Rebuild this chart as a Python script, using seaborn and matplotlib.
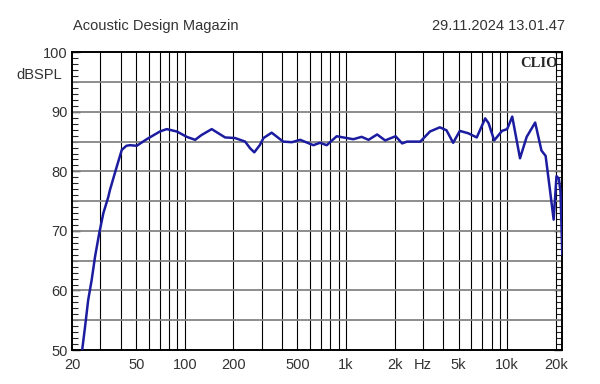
#!/usr/bin/env python3
"""Frequency response plot (CLIO style) - saves out.png."""

import numpy as np
import pandas as pd
import matplotlib
matplotlib.use('Agg')
import matplotlib.pyplot as plt
import seaborn as sns
from matplotlib.ticker import FixedLocator, MultipleLocator, NullFormatter

freq_hz = [23.0, 24.1, 25.2, 26.5, 27.8, 29.5, 31.3, 33.5, 34.4, 37.9,
           40.7, 43.5, 45.8, 50.4, 58.1, 70.2, 77.3, 89.3, 103, 116,
           127, 147, 178, 205, 237, 254, 270, 292, 308, 346,
           408, 462, 520, 628, 690, 760, 876, 1010, 1110, 1250,
           1380, 1560, 1750, 2030, 2230, 2390, 2890, 3320, 3820, 4200,
           4620, 5080, 5730, 6470, 7300, 7660, 8300, 9280, 9990, 10740,
           12000, 13200, 14900, 16300, 17300, 18400, 19400, 20200, 20900, 21400,
           21950]
spl_db = [49.5, 53.9, 58.4, 61.8, 65.7, 69.6, 73.0, 75.6, 76.9, 80.8,
          83.6, 84.3, 84.4, 84.3, 85.4, 86.7, 87.1, 86.7, 85.8, 85.3,
          86.1, 87.1, 85.7, 85.6, 85.0, 83.9, 83.2, 84.4, 85.6, 86.5,
          85.0, 84.9, 85.3, 84.4, 84.8, 84.4, 85.9, 85.6, 85.4, 85.8,
          85.3, 86.2, 85.2, 85.9, 84.7, 85.0, 85.0, 86.7, 87.4, 86.9,
          84.8, 86.8, 86.4, 85.7, 88.9, 88.1, 85.2, 86.8, 87.1, 89.2,
          82.2, 85.8, 88.2, 83.5, 82.6, 76.9, 71.9, 79.2, 78.8, 76.5,
          66.0]

# Axis labels
x_label_pos = [20, 50, 100, 200, 500, 1000, 2000, 3000, 5000, 10000, 20000]
x_label_txt = ['20', '50', '100', '200', '500', '1k', '2k', 'Hz', '5k', '10k', '20k']
y_label_pos = [50, 60, 70, 80, 90, 100]

header_left = 'Acoustic Design Magazin'
header_right = '29.11.2024 13.01.47'

sns.set_style('white')
plt.rcParams['font.family'] = ['Liberation Sans', 'DejaVu Sans']

df = pd.DataFrame({'freq': freq_hz, 'spl': spl_db})

fig = plt.figure(figsize=(6.0, 3.84), dpi=100)
ax = fig.add_axes([72 / 600, 34 / 384, (562.3 - 72) / 600, (350 - 52.3) / 384])
ax.set_xscale('log')
ax.set_xlim(20, 21950)
ax.set_ylim(50, 100)

# grid: black verticals at log decades, grey horizontals every 5 dB
grid_x = [m * 10 ** d for d in (1, 2, 3, 4) for m in range(1, 10)]
grid_x = [g for g in grid_x if 20 < g <= 20000]
for g in grid_x:
    ax.axvline(g, color='black', lw=0.8, zorder=1)
for g in range(55, 100, 5):
    ax.axhline(g, color='#858585', lw=1.3, zorder=1)

sns.lineplot(data=df, x='freq', y='spl', ax=ax, color='#1c1ca0', lw=1.8,
             sort=False, zorder=3, legend=False)

ax.set_xlabel('')
ax.set_ylabel('')

ax.xaxis.set_major_locator(FixedLocator(x_label_pos))
ax.xaxis.set_minor_locator(FixedLocator([]))
ax.set_xticklabels(x_label_txt)
ax.xaxis.set_minor_formatter(NullFormatter())
ax.tick_params(axis='x', which='both', length=0, pad=6, labelsize=10.5,
               labelcolor='#333333')

ax.yaxis.set_major_locator(FixedLocator(y_label_pos))
ax.yaxis.set_minor_locator(MultipleLocator(1))
ax.tick_params(axis='y', which='major', direction='in', length=6, width=1,
               left=True, right=True, pad=3, labelsize=10.5, labelcolor='#333333')
ax.tick_params(axis='y', which='minor', direction='in', length=4, width=0.8,
               left=True, right=True)

for sp in ax.spines.values():
    sp.set_visible(True)
    sp.set_color('black')
    sp.set_linewidth(1.4)

ax.text(0.99, 0.985, 'CLIO', transform=ax.transAxes, ha='right', va='top',
        fontsize=10.5, fontweight='bold', family='Liberation Serif', zorder=4)

fig.text(62 / 600, 1 - 75 / 384, 'dBSPL', ha='right', va='center',
         fontsize=10.5, color='#333333')
fig.text(73 / 600, 1 - 26 / 384, header_left, ha='left', va='center',
         fontsize=10.5, color='#333333')
fig.text(565 / 600, 1 - 26 / 384, header_right, ha='right', va='center',
         fontsize=10.5, color='#333333')

plt.savefig('out.png', dpi=100)
plt.close()
